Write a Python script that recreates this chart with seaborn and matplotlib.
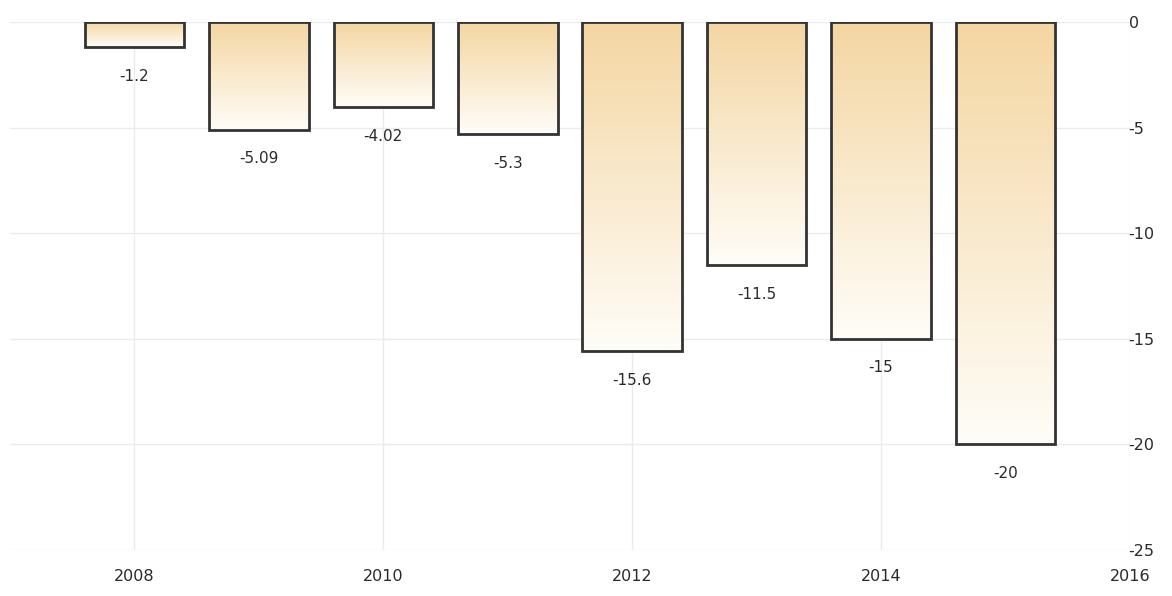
import numpy as np
import pandas as pd
import matplotlib
matplotlib.use("Agg")
import matplotlib.pyplot as plt
import seaborn as sns
from matplotlib.colors import LinearSegmentedColormap

years = [2008, 2009, 2010, 2011, 2012, 2013, 2014, 2015]
values = [-1.2, -5.09, -4.02, -5.3, -15.6, -11.5, -15, -20]
labels = ["-1.2", "-5.09", "-4.02", "-5.3", "-15.6", "-11.5", "-15", "-20"]
xticks = [2008, 2010, 2012, 2014, 2016]
yticks = [0, -5, -10, -15, -20, -25]

sns.set_theme(style="white")
plt.rcParams['font.family'] = ['DejaVu Sans']

fig = plt.figure(figsize=(11.72, 5.96), dpi=100)
ax = fig.add_axes([10/1172, 1 - 550/596, (1130 - 10)/1172, (550 - 22)/596])

df = pd.DataFrame({"year": years, "value": values})
sns.barplot(data=df, x="year", y="value", native_scale=True, ax=ax,
            color="white", edgecolor="#333333", linewidth=2, width=0.8, zorder=3)

cmap = LinearSegmentedColormap.from_list("g", ["#f4d6a2", "#fffdf8"])
grad = np.linspace(0, 1, 256).reshape(-1, 1)
for p in ax.patches:
    x0, y0 = p.get_x(), p.get_y()
    w, h = p.get_width(), p.get_height()
    top = max(y0, y0 + h)
    bot = min(y0, y0 + h)
    im = ax.imshow(grad, cmap=cmap, aspect="auto", extent=[x0, x0 + w, bot, top],
                   origin="upper", zorder=2.5)
    im.set_clip_path(p)
    p.set_facecolor("none")

for x, v, lab in zip(years, values, labels):
    ax.annotate(lab, (x, v), xytext=(0, -21), textcoords="offset points",
                ha="center", va="center", fontsize=11, color="#2a2a2a")

ax.set_xlim(2007, 2016)
ax.set_ylim(-25, 0)
ax.set_xticks(xticks)
ax.set_yticks(yticks)
ax.set_xticklabels([str(t) for t in xticks])
ax.set_yticklabels([str(t) for t in yticks])
ax.yaxis.tick_right()
ax.tick_params(axis="both", length=0, labelsize=11.5, labelcolor="#2a2a2a")
ax.tick_params(axis="y", pad=-1)
ax.tick_params(axis="x", pad=14)
for lab in ax.get_yticklabels():
    lab.set_horizontalalignment("left")
ax.grid(True, color="#ebebeb", linewidth=1, zorder=0)
ax.set_axisbelow(True)
for s in ax.spines.values():
    s.set_visible(False)
ax.set_xlabel("")
ax.set_ylabel("")

fig.savefig("out.png", dpi=100)
